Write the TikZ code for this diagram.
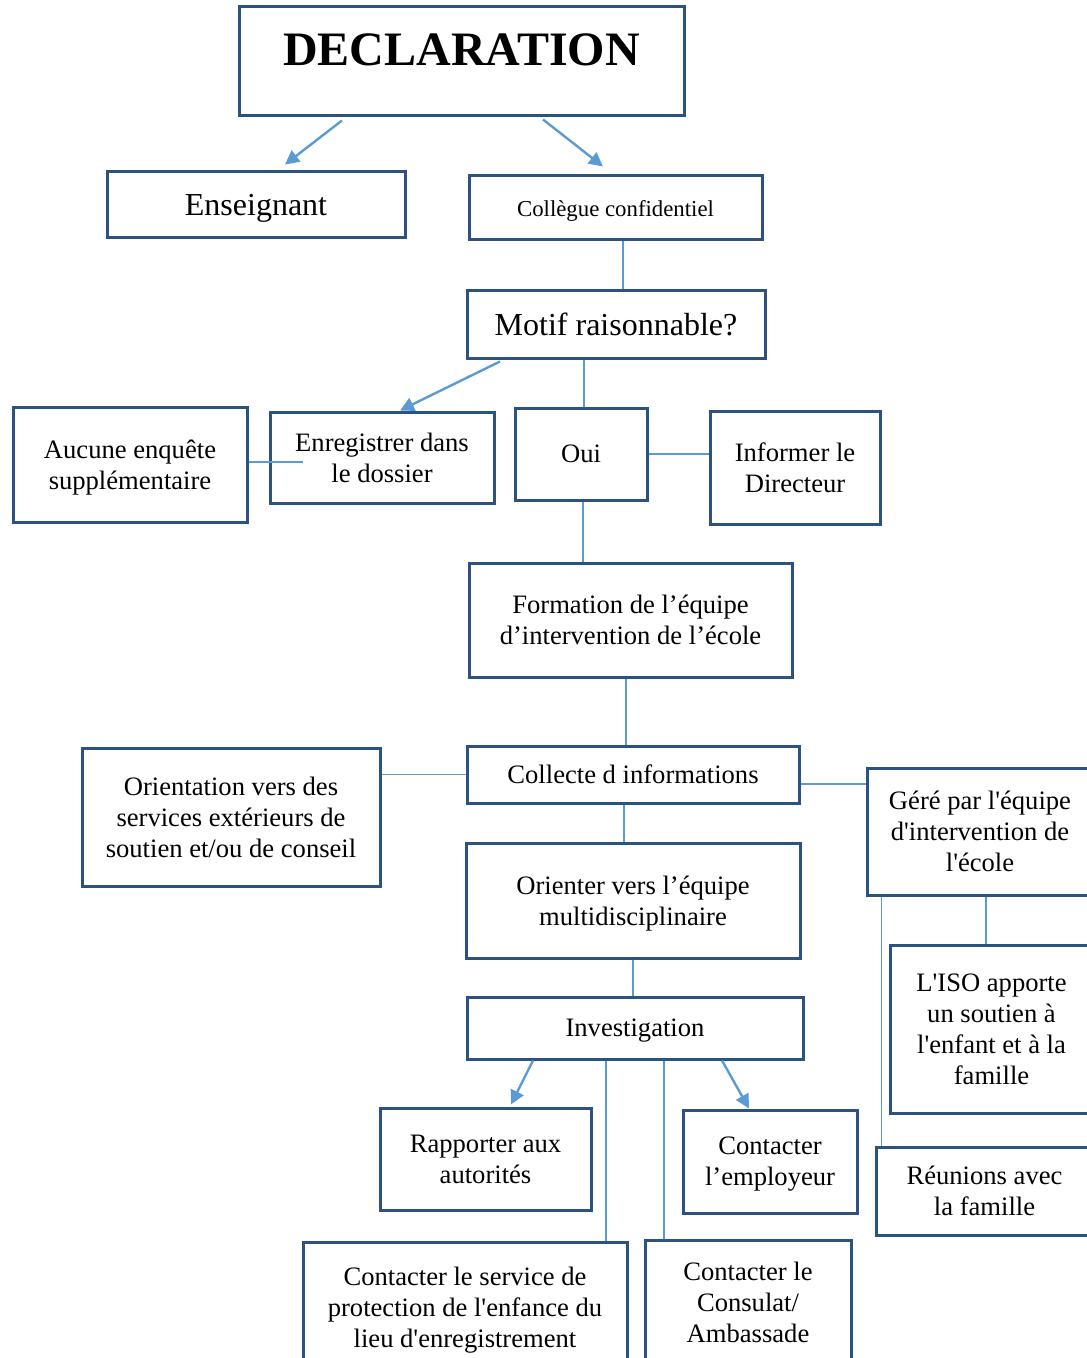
\documentclass[tikz,border=0pt]{standalone}
\usepackage{fontspec}
\setmainfont{Liberation Serif}[Ligatures=TeXOff]
\usetikzlibrary{arrows.meta}
\definecolor{boxblue}{RGB}{44,82,130}
\definecolor{lineblue}{RGB}{91,155,213}
\tikzset{
  box/.style={draw=boxblue, line width=1.5pt, align=center, inner sep=0pt,
    text depth=0pt, font=\fontsize{13.3}{15.5}\selectfont},
  sz/.style 2 args={minimum width=#1*0.5pt, minimum height=#2*0.5pt},
  low/.style={text depth=-2.6pt},
  link/.style={draw=lineblue, line width=0.6pt},
  arr/.style={draw=lineblue, line width=1.2pt, -{Triangle[length=7pt,width=7pt]}}
}
\begin{document}
\begin{tikzpicture}[x=0.5pt,y=-0.5pt]
  \useasboundingbox (0,0) rectangle (1086,1358);
  \node[box,sz={445}{109},font=\fontsize{24}{28}\selectfont\bfseries,
    text height=19pt,text depth=15pt] (decl) at (461.5,61.5) {DECLARATION};
  \node[box,low,sz={298}{66},font=\fontsize{16}{18}\selectfont] (ens) at (256,205) {Enseignant};
  \node[box,sz={293}{64},font=\fontsize{11.4}{13}\selectfont] (coll) at (615.5,208) {Collègue confidentiel};
  \node[box,sz={298}{67},font=\fontsize{16}{18}\selectfont] (motif) at (616,324.5) {Motif raisonnable?};
  \node[box,low,sz={234}{115}] (aucune) at (130,464.5) {Aucune enquête\\supplémentaire};
  \node[box,sz={224}{91}] (enreg) at (382,457.5) {Enregistrer dans\\le dossier};
  \node[box,sz={132}{92}] (oui) at (581,454) {Oui};
  \node[box,sz={170}{113}] (info) at (795,467.5) {Informer le\\Directeur};
  \node[box,sz={323}{114}] (form) at (630.5,620) {Formation de l’équipe\\d’intervention de l’école};
  \node[box,sz={332}{57}] (collecte) at (633,774.5) {Collecte d informations};
  \node[box,sz={298}{138}] (orient) at (231,817) {Orientation vers des\\services extérieurs de\\soutien et/ou de conseil};
  \node[box,sz={226}{127}] (gere) at (980,831.5) {Géré par l'équipe\\d'intervention de\\l'école};
  \node[box,sz={334}{115}] (orienter) at (633,900.5) {Orienter vers l’équipe\\multidisciplinaire};
  \node[box,sz={203}{168}] (iso) at (991.5,1029) {L'ISO apporte\\un soutien à\\l'enfant et à la\\famille};
  \node[box,low,sz={336}{62}] (invest) at (635,1028) {Investigation};
  \node[box,sz={217}{88}] (reun) at (984.5,1191) {Réunions avec\\la famille};
  \node[box,sz={211}{102}] (rapport) at (485.5,1159) {Rapporter aux\\autorités};
  \node[box,low,sz={174}{103}] (employ) at (770,1161.5) {Contacter\\l’employeur};
  \node[box,sz={324}{130}] (service) at (465,1307) {Contacter le service de\\protection de l'enfance du\\lieu d'enregistrement};
  \node[box,sz={206}{124}] (consul) at (748,1302) {Contacter le\\Consulat/\\Ambassade};
  \begin{scope}[link]
    \draw ([xshift=3.75pt]coll.south) -- ([xshift=3.75pt]coll.south |- motif.north);
    \draw ([xshift=1.5pt]oui.north) -- ([xshift=1.5pt]oui.north |- motif.south);
    \draw (oui.east) -- (oui.east -| info.west);
    \draw ([yshift=1.25pt]aucune.east) -- ([xshift=17pt,yshift=1.25pt]aucune.east -| enreg.west);
    \draw ([xshift=1pt]oui.south) -- ([xshift=1pt]oui.south |- form.north);
    \draw ([xshift=-2.25pt]form.south) -- ([xshift=-2.25pt]form.south |- collecte.north);
    \draw (collecte.west) -- (collecte.west -| orient.east);
    \draw ([yshift=-4.75pt]collecte.east) -- ([yshift=-4.75pt]collecte.east -| gere.west);
    \draw ([xshift=-4.5pt]collecte.south) -- ([xshift=-4.5pt]collecte.south |- orienter.north);
    \draw ([xshift=-2.75pt]iso.north) -- ([xshift=-2.75pt]iso.north |- gere.south);
    \draw ([xshift=8pt]gere.south west) -- ([xshift=8pt]gere.south west |- reun.north);
    \draw (orienter.south) -- (orienter.south |- invest.north);
    \draw ([xshift=-14.5pt]invest.south) -- ([xshift=-14.5pt]invest.south |- service.north);
    \draw ([xshift=14.5pt]invest.south) -- ([xshift=14.5pt]invest.south |- consul.north);
  \end{scope}
  \begin{scope}[arr]
    \draw ([xshift=-59.75pt,yshift=-1.5pt]decl.south) -- ([xshift=14.5pt,yshift=3pt]ens.north);
    \draw ([xshift=40.75pt,yshift=-1pt]decl.south) -- ([xshift=-6.25pt,yshift=4pt]coll.north);
    \draw ([xshift=-58pt,yshift=-1pt]motif.south) -- ([xshift=9pt]enreg.north);
    \draw ([xshift=-51pt]invest.south) -- ([xshift=12.75pt,yshift=1pt]rapport.north);
    \draw ([xshift=43.5pt]invest.south) -- ([xshift=-10.5pt]employ.north);
  \end{scope}
\end{tikzpicture}
\end{document}
